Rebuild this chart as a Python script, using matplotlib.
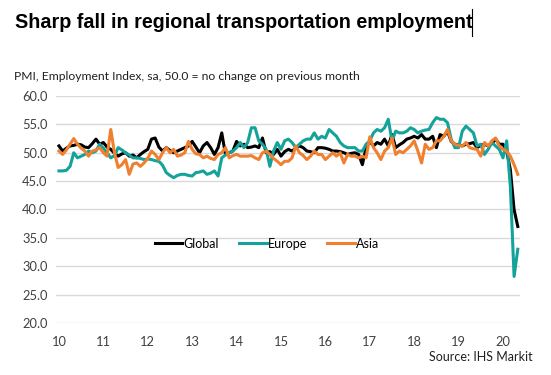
import numpy as np
import matplotlib
matplotlib.use("Agg")
from matplotlib import pyplot as plt
from matplotlib.lines import Line2D

# PMI employment index, monthly Jan 2010 - May 2020
global_idx = [
    51.2, 50.3, 50.8, 51.2, 51.3, 51.5, 51.4, 51.0, 50.9, 51.6, 52.4, 51.5,
    51.8, 51.0, 50.6, 49.9, 49.4, 49.8, 50.0, 49.4, 49.6, 49.1, 49.7, 50.2,
    50.6, 52.4, 52.6, 51.0, 50.3, 50.9, 50.4, 50.0, 50.3, 50.6, 50.9, 51.2,
    52.0, 51.0, 50.0, 51.2, 51.8, 50.9, 49.7, 50.9, 53.5, 49.7, 50.0, 50.3,
    52.0, 51.2, 51.5, 50.9, 51.0, 51.2, 50.9, 52.6, 50.0, 50.2, 49.7, 50.6,
    49.4, 50.2, 50.6, 50.3, 50.8, 51.2, 50.9, 50.3, 50.2, 50.0, 50.9, 50.9,
    50.8, 50.6, 50.3, 50.3, 50.2, 50.0, 49.7, 49.9, 50.0, 49.7, 47.9, 50.9,
    52.0, 51.2, 51.8, 51.5, 52.4, 51.2, 53.2, 50.9, 51.4, 51.8, 52.4, 52.6,
    52.9, 52.6, 53.2, 52.4, 52.4, 52.9, 50.9, 53.2, 52.9, 53.8, 52.0, 51.5,
    51.4, 51.2, 51.5, 51.6, 51.8, 50.9, 51.3, 51.5, 51.2, 51.6, 52.4, 51.5,
    51.5, 50.3, 47.0, 40.0, 37.0,
]
europe_idx = [
    46.8, 46.8, 46.9, 47.6, 50.0, 49.1, 49.4, 49.7, 50.3, 50.0, 50.3, 51.5,
    50.8, 50.0, 49.1, 49.5, 50.9, 50.5, 50.0, 49.6, 49.1, 49.1, 49.0, 48.8,
    48.9, 48.8, 48.6, 48.5, 47.8, 46.5, 46.0, 45.6, 46.0, 46.2, 46.2, 46.0,
    45.9, 46.5, 46.6, 46.8, 46.2, 46.4, 46.8, 45.9, 49.1, 49.6, 50.0, 50.3,
    50.9, 51.8, 50.9, 51.8, 54.4, 54.4, 52.1, 51.5, 50.6, 47.6, 50.3, 51.8,
    50.6, 52.1, 52.4, 51.8, 50.9, 51.5, 52.1, 52.4, 52.4, 53.5, 52.4, 52.9,
    52.6, 54.1, 53.5, 52.9, 51.8, 51.2, 50.9, 50.9, 50.9, 50.3, 50.3, 51.5,
    52.1, 53.5, 54.1, 53.8, 54.4, 55.9, 52.1, 53.8, 53.5, 53.5, 53.8, 54.4,
    54.1, 53.5, 53.8, 54.0, 54.1, 55.3, 56.2, 55.9, 55.9, 55.3, 52.4, 50.9,
    50.9, 53.8, 54.7, 54.1, 53.5, 51.2, 51.5, 49.7, 50.6, 51.8, 51.2, 50.6,
    49.1, 52.1, 44.0, 28.2, 33.0,
]
asia_idx = [
    50.3, 49.7, 50.5, 51.5, 52.5, 51.5, 50.8, 50.3, 49.4, 50.3, 50.5, 50.9,
    50.0, 49.4, 54.1, 50.0, 47.4, 47.9, 48.8, 46.2, 48.0, 48.2, 47.6, 48.2,
    49.0, 50.3, 49.7, 48.8, 50.0, 50.9, 50.0, 50.6, 49.4, 49.6, 50.0, 52.0,
    50.6, 49.8, 49.7, 49.1, 49.4, 49.0, 48.8, 49.7, 50.0, 50.9, 49.1, 49.5,
    49.7, 49.4, 49.4, 49.4, 49.5, 49.1, 48.8, 50.0, 50.3, 49.7, 49.0, 48.5,
    47.9, 48.5, 48.5, 49.1, 51.2, 50.0, 49.5, 48.8, 49.4, 50.3, 49.7, 49.7,
    48.8, 49.4, 50.0, 49.4, 50.0, 48.2, 49.7, 49.4, 49.4, 49.1, 49.4, 49.1,
    52.8, 50.9, 50.0, 48.8, 50.3, 50.9, 52.6, 49.7, 50.3, 50.0, 50.6, 51.2,
    52.1, 50.3, 48.2, 51.5, 50.6, 50.9, 52.1, 52.1, 52.9, 54.1, 52.1, 51.5,
    51.3, 51.2, 51.8, 50.9, 50.7, 50.6, 49.4, 51.8, 51.2, 52.1, 52.6, 51.2,
    50.6, 50.3, 49.4, 47.9, 46.2,
]
year_labels = ["10", "11", "12", "13", "14", "15", "16", "17", "18", "19", "20"]

FONT = "Lato"

fig = plt.figure(figsize=(5.51, 3.75), dpi=100)
ax = fig.add_axes([56 / 551, 1 - 323 / 375, 464 / 551, 227 / 375])

months = np.arange(len(global_idx))
ax.plot(months, global_idx, color="black", lw=2.2, label="Global")
ax.plot(months, europe_idx, color="#13a39a", lw=2.2, label="Europe")
ax.plot(months, asia_idx, color="#f08030", lw=2.2, label="Asia")

ax.set_ylim(20, 60)
ax.set_xlim(-0.8, 124.6)
ax.set_yticks(np.arange(20, 61, 5))
ax.set_yticklabels([f"{v:.1f}" for v in np.arange(20, 61, 5)], fontsize=9.3,
                   family=FONT, color="#404040")
ax.set_xticks(np.arange(0, 121, 12))
ax.set_xticklabels(year_labels, fontsize=9.3, family=FONT, color="#404040")
ax.tick_params(axis="y", length=0, pad=6)
ax.tick_params(axis="x", length=0, pad=9)
ax.grid(axis="y", color="#d9d9d9", lw=1)
ax.set_axisbelow(True)
for s in ax.spines.values():
    s.set_visible(False)

ax.legend(loc="center", bbox_to_anchor=(0.455, 0.35), ncol=3, frameon=False,
          prop={"family": FONT, "size": 9}, handlelength=2.2,
          handletextpad=0.1, columnspacing=1.6)

fig.text(15 / 551, 1 - 22 / 375, "Sharp fall in regional transportation employment",
         fontsize=14.2, fontweight="bold", family="Liberation Sans", va="center")
fig.add_artist(Line2D([472 / 551, 472 / 551], [1 - 36 / 375, 1 - 9 / 375],
                      color="black", lw=0.8))
fig.text(14 / 551, 1 - 77 / 375,
         "PMI, Employment Index, sa, 50.0 = no change on previous month",
         fontsize=8.7, family=FONT, color="#202020", va="center")
fig.text(533 / 551, 1 - 357 / 375, "Source: IHS Markit", fontsize=9,
         family=FONT, color="#202020", ha="right", va="center")

fig.savefig("out.png", dpi=100)
